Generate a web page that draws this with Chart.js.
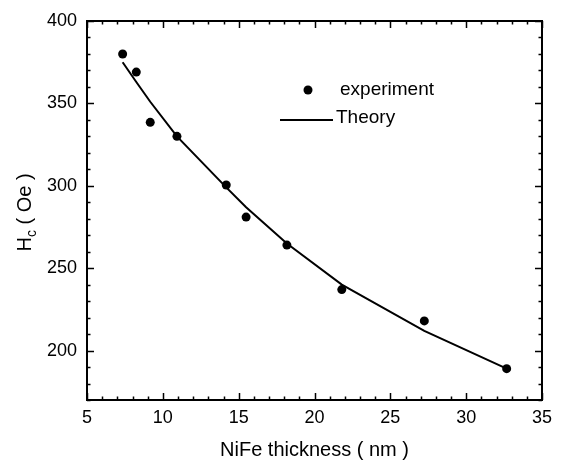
<!DOCTYPE html>
<html>
<head>
<meta charset="utf-8">
<script src="https://cdn.jsdelivr.net/npm/chart.js@4/dist/chart.umd.min.js"></script>
<style>
  html, body { margin: 0; padding: 0; background: #ffffff; }
  #wrap { width: 563px; height: 462px; }
</style>
</head>
<body>
<div id="wrap"><canvas id="c" width="563" height="462"></canvas></div>
<script>
// ---- data ----
const thickness = [7.35, 8.25, 9.17, 10.93, 14.18, 15.49, 18.18, 21.8, 27.24, 32.67];
const hcExperiment = [380, 369, 338.5, 330, 300.5, 281, 264, 237, 218, 189];
const hcTheory = [375, 363, 351, 330, 299, 287, 265, 240, 212, 189];
const xTicks = [5, 10, 15, 20, 25, 30, 35];
const yTicks = [200, 250, 300, 350, 400];
const xLabel = 'NiFe thickness ( nm )';
const yLabelMain = 'H';
const yLabelSub = 'c';
const yLabelRest = ' ( Oe )';
const legendLabels = ['experiment', 'Theory'];

const FONT = '"Liberation Sans", Arial, Helvetica, sans-serif';

const expPoints = thickness.map((t, i) => ({ x: t, y: hcExperiment[i] }));
const theoryPoints = thickness.map((t, i) => ({ x: t, y: hcTheory[i] }));

const framePlugin = {
  id: 'frameAndTicks',
  afterDraw(chart) {
    const ctx = chart.ctx;
    const a = chart.chartArea;
    const xs = chart.scales.x, ys = chart.scales.y;
    ctx.save();
    ctx.strokeStyle = '#000';
    // inward tick marks on all four sides
    ctx.lineWidth = 1.5;
    ctx.beginPath();
    for (let v = xs.min; v <= xs.max + 1e-9; v += 1) {
      const px = Math.round(xs.getPixelForValue(v)) + 0.5;
      const len = (Math.abs(v % 5) < 1e-9) ? 7 : 3.5;
      ctx.moveTo(px, a.bottom); ctx.lineTo(px, a.bottom - len);
      ctx.moveTo(px, a.top); ctx.lineTo(px, a.top + len);
    }
    for (let v = ys.min; v <= ys.max + 1e-9; v += 10) {
      const py = Math.round(ys.getPixelForValue(v)) + 0.5;
      const len = (Math.abs(v % 50) < 1e-9) ? 7 : 3.5;
      ctx.moveTo(a.left, py); ctx.lineTo(a.left + len, py);
      ctx.moveTo(a.right, py); ctx.lineTo(a.right - len, py);
    }
    ctx.stroke();
    // frame
    ctx.lineWidth = 2;
    ctx.strokeRect(a.left, a.top, a.right - a.left, a.bottom - a.top);

    // y-axis title with subscript
    ctx.fillStyle = '#000';
    ctx.translate(31, (a.top + a.bottom) / 2 + 2);
    ctx.rotate(-Math.PI / 2);
    ctx.textBaseline = 'alphabetic';
    ctx.textAlign = 'left';
    const mainFont = '20px ' + FONT, subFont = '14px ' + FONT;
    ctx.font = mainFont;
    const wH = ctx.measureText(yLabelMain).width;
    const wRest = ctx.measureText(yLabelRest).width;
    ctx.font = subFont;
    const wSub = ctx.measureText(yLabelSub).width;
    const total = wH + wSub + wRest;
    let x0 = -total / 2;
    ctx.font = mainFont;
    ctx.fillText(yLabelMain, x0, 0);
    ctx.font = subFont;
    ctx.fillText(yLabelSub, x0 + wH, 5);
    ctx.font = mainFont;
    ctx.fillText(yLabelRest, x0 + wH + wSub, 0);
    ctx.restore();

    // legend inside the plot
    ctx.save();
    const lx = a.left, ly = a.top;
    ctx.fillStyle = '#000';
    ctx.strokeStyle = '#000';
    ctx.beginPath();
    ctx.arc(lx + 221, ly + 69, 4.5, 0, Math.PI * 2);
    ctx.fill();
    ctx.lineWidth = 2;
    ctx.beginPath();
    ctx.moveTo(lx + 193, ly + 99);
    ctx.lineTo(lx + 246, ly + 99);
    ctx.stroke();
    ctx.font = '19px ' + FONT;
    ctx.textBaseline = 'middle';
    ctx.textAlign = 'left';
    ctx.fillText(legendLabels[0], lx + 253, ly + 69);
    ctx.fillText(legendLabels[1], lx + 249, ly + 97);
    ctx.restore();
  }
};

new Chart(document.getElementById('c'), {
  type: 'scatter',
  data: {
    datasets: [
      {
        label: legendLabels[0],
        data: expPoints,
        showLine: false,
        pointRadius: 4.5,
        pointHoverRadius: 4.5,
        pointBackgroundColor: '#000',
        pointBorderColor: '#000',
        pointBorderWidth: 0
      },
      {
        label: legendLabels[1],
        data: theoryPoints,
        showLine: true,
        tension: 0,
        pointRadius: 0,
        borderColor: '#000',
        borderWidth: 2,
        fill: false
      }
    ]
  },
  options: {
    responsive: false,
    animation: false,
    devicePixelRatio: 1,
    layout: { padding: { top: 21, right: 21, left: 0, bottom: 0 } },
    plugins: {
      legend: { display: false },
      tooltip: { enabled: false }
    },
    scales: {
      x: {
        type: 'linear',
        min: 5,
        max: 35,
        afterBuildTicks(scale) { scale.ticks = xTicks.map(v => ({ value: v })); },
        afterFit(scale) { scale.height = 62; },
        grid: { display: false, drawTicks: false },
        border: { display: false },
        ticks: {
          padding: 7,
          color: '#000',
          font: { family: FONT, size: 18 },
          maxRotation: 0,
          autoSkip: false
        },
        title: {
          display: true,
          text: xLabel,
          color: '#000',
          font: { family: FONT, size: 20 },
          padding: { top: 0, bottom: 0 }
        }
      },
      y: {
        type: 'linear',
        min: 170,
        max: 400,
        afterBuildTicks(scale) { scale.ticks = yTicks.map(v => ({ value: v })); },
        afterFit(scale) { scale.width = 87; },
        grid: { display: false, drawTicks: false },
        border: { display: false },
        ticks: {
          padding: 10,
          color: '#000',
          font: { family: FONT, size: 18 },
          autoSkip: false
        }
      }
    }
  },
  plugins: [framePlugin]
});
</script>
</body>
</html>
